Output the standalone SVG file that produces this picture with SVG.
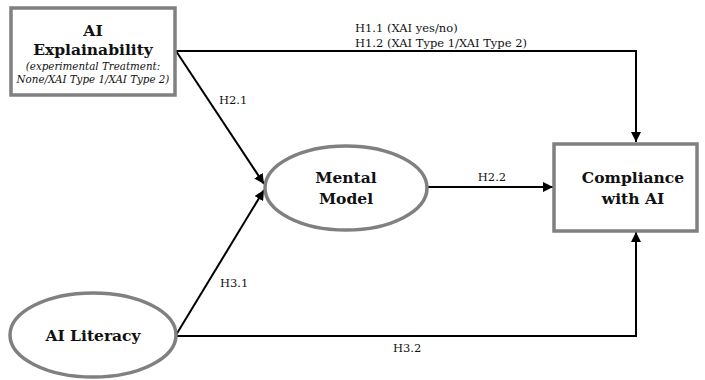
<svg xmlns="http://www.w3.org/2000/svg" width="705" height="380" viewBox="0 0 705 380">
<style>
.node{fill:#fff;stroke:#808080;stroke-width:3.5}
.t{font-family:"DejaVu Serif","Liberation Serif",serif;font-weight:bold;font-size:15.5px;fill:#111;text-anchor:middle}
.s{font-family:"DejaVu Serif","Liberation Serif",serif;font-style:italic;font-size:10.3px;fill:#111;text-anchor:middle}
.l{font-family:"DejaVu Serif","Liberation Serif",serif;font-size:11.5px;fill:#111}
.c{fill:none;stroke:#000;stroke-width:2}
</style>
<defs>
<marker id="ah" viewBox="0 0 10 10" refX="10" refY="5" markerWidth="10" markerHeight="10" markerUnits="userSpaceOnUse" orient="auto">
<path d="M0,0 L10,5 L0,10 Z" fill="#000"/>
</marker>
</defs>
<rect width="705" height="380" fill="#fff"/>
<g id="connectors">
<path class="c" d="M176,51 H636 V142" marker-end="url(#ah)"/>
<path class="c" d="M176,51 L264,184" marker-end="url(#ah)"/>
<path class="c" d="M176,335 L264,190" marker-end="url(#ah)"/>
<path class="c" d="M428,187 H553" marker-end="url(#ah)"/>
<path class="c" d="M176,336 H636 V232" marker-end="url(#ah)"/>
<text class="l" x="355" y="32">H1.1 (XAI yes/no)</text>
<text class="l" x="355" y="47">H1.2 (XAI Type 1/XAI Type 2)</text>
<text class="l" x="219" y="104">H2.1</text>
<text class="l" x="492" y="181" text-anchor="middle">H2.2</text>
<text class="l" x="220" y="287">H3.1</text>
<text class="l" x="393" y="352">H3.2</text>
</g>
<g id="ai-explainability">
<rect class="node" x="11" y="8" width="164" height="87"/>
<text class="t" x="93" y="36">AI</text>
<text class="t" x="93" y="55">Explainability</text>
<text class="s" x="93" y="70">(experimental Treatment:</text>
<text class="s" x="93" y="83">None/XAI Type 1/XAI Type 2)</text>
</g>
<g id="mental-model">
<ellipse class="node" cx="346" cy="188" rx="81" ry="42"/>
<text class="t" x="346" y="183">Mental</text>
<text class="t" x="346" y="204">Model</text>
</g>
<g id="compliance">
<rect class="node" x="554" y="144" width="143" height="87"/>
<text class="t" x="633" y="183">Compliance</text>
<text class="t" x="633" y="204">with AI</text>
</g>
<g id="ai-literacy">
<ellipse class="node" cx="93" cy="335" rx="83" ry="42"/>
<text class="t" x="93" y="341">AI Literacy</text>
</g>
</svg>
